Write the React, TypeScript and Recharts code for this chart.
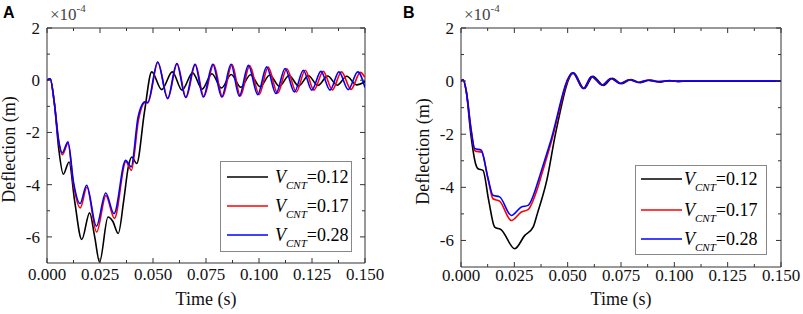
import { LineChart, Line, XAxis, YAxis, ReferenceArea, Legend, Label } from "recharts";

type Pt = { t: number; v: number };

// series labels (V_CNT values) and colours
const seriesNames = ["0.12", "0.17", "0.28"];
const seriesColors = ["#000000", "#ff0000", "#0000ff"];

// axis ticks
const xMajorTicks = [0, 0.025, 0.05, 0.075, 0.1, 0.125, 0.15];
const xMinorTicks = [0.0125, 0.0375, 0.0625, 0.0875, 0.1125, 0.1375];
const yMajorTicks = [-6, -4, -2, 0, 2];
const yMinorTicks = [-5, -3, -1, 1];

// Panel A: deflection (x1e-4 m) vs time (s)
const panelA012: Pt[] = [
  { t: 0, v: 0 }, { t: 0.0015, v: 0.05 }, { t: 0.0035, v: -0.9 }, { t: 0.0055, v: -2.6 },
  { t: 0.0077, v: -3.6 }, { t: 0.0104, v: -3.13 }, { t: 0.013, v: -4.6 }, { t: 0.0164, v: -6.1 },
  { t: 0.0201, v: -5.08 }, { t: 0.0225, v: -6.0 }, { t: 0.0248, v: -6.96 }, { t: 0.0288, v: -5.24 },
  { t: 0.031, v: -5.4 }, { t: 0.0336, v: -5.87 }, { t: 0.0362, v: -4.6 }, { t: 0.0384, v: -3.3 },
  { t: 0.04, v: -2.94 }, { t: 0.0423, v: -3.19 }, { t: 0.046, v: -1.2 }, { t: 0.0494, v: 0.32 },
  { t: 0.0541, v: -0.36 }, { t: 0.0591, v: 0.32 }, { t: 0.0637, v: -0.38 }, { t: 0.0687, v: 0.28 },
  { t: 0.0732, v: -0.34 }, { t: 0.0778, v: 0.25 }, { t: 0.0823, v: -0.3 }, { t: 0.0869, v: 0.22 },
  { t: 0.0914, v: -0.27 }, { t: 0.096, v: 0.21 }, { t: 0.1005, v: -0.25 }, { t: 0.1051, v: 0.2 },
  { t: 0.1096, v: -0.23 }, { t: 0.1142, v: 0.18 }, { t: 0.1187, v: -0.22 }, { t: 0.1233, v: 0.17 },
  { t: 0.1278, v: -0.2 }, { t: 0.1324, v: 0.16 }, { t: 0.1369, v: -0.19 }, { t: 0.1414, v: 0.15 },
  { t: 0.146, v: -0.18 }, { t: 0.15, v: -0.05 },
];

const panelA017: Pt[] = [
  { t: 0, v: 0 }, { t: 0.0015, v: 0.05 }, { t: 0.0035, v: -0.9 }, { t: 0.0055, v: -2.35 },
  { t: 0.0073, v: -2.85 }, { t: 0.0099, v: -2.42 }, { t: 0.0125, v: -4.0 }, { t: 0.0157, v: -4.89 },
  { t: 0.0188, v: -4.1 }, { t: 0.0234, v: -5.81 }, { t: 0.0278, v: -4.42 }, { t: 0.0318, v: -5.29 },
  { t: 0.0372, v: -3.12 }, { t: 0.0398, v: -3.45 }, { t: 0.0432, v: -1.5 }, { t: 0.0463, v: -0.85 },
  { t: 0.0476, v: -0.87 }, { t: 0.0523, v: 0.68 }, { t: 0.057, v: -0.7 }, { t: 0.0614, v: 0.63 },
  { t: 0.0656, v: -0.66 }, { t: 0.07, v: 0.6 }, { t: 0.074, v: -0.63 }, { t: 0.0786, v: 0.6 },
  { t: 0.0828, v: -0.63 }, { t: 0.0873, v: 0.6 }, { t: 0.0912, v: -0.6 }, { t: 0.0956, v: 0.56 },
  { t: 0.1001, v: -0.55 }, { t: 0.1043, v: 0.5 }, { t: 0.1088, v: -0.5 }, { t: 0.1131, v: 0.44 },
  { t: 0.1176, v: -0.45 }, { t: 0.1218, v: 0.38 }, { t: 0.1259, v: -0.38 }, { t: 0.1303, v: 0.34 },
  { t: 0.1346, v: -0.37 }, { t: 0.1389, v: 0.32 }, { t: 0.1434, v: -0.35 }, { t: 0.1478, v: 0.3 },
  { t: 0.15, v: 0.1 },
];

const panelA028: Pt[] = [
  { t: 0, v: 0 }, { t: 0.0015, v: 0.05 }, { t: 0.0035, v: -0.9 }, { t: 0.0055, v: -2.3 },
  { t: 0.0072, v: -2.78 }, { t: 0.0099, v: -2.36 }, { t: 0.0125, v: -3.9 }, { t: 0.0156, v: -4.72 },
  { t: 0.0187, v: -4.02 }, { t: 0.0233, v: -5.59 }, { t: 0.0277, v: -4.32 }, { t: 0.0316, v: -5.11 },
  { t: 0.0371, v: -3.07 }, { t: 0.0397, v: -3.32 }, { t: 0.043, v: -1.4 }, { t: 0.0462, v: -0.83 },
  { t: 0.0475, v: -0.85 }, { t: 0.0522, v: 0.7 }, { t: 0.0569, v: -0.7 }, { t: 0.0612, v: 0.64 },
  { t: 0.0654, v: -0.66 }, { t: 0.0698, v: 0.61 }, { t: 0.0737, v: -0.64 }, { t: 0.0782, v: 0.61 },
  { t: 0.0824, v: -0.64 }, { t: 0.0868, v: 0.61 }, { t: 0.0907, v: -0.61 }, { t: 0.095, v: 0.57 },
  { t: 0.0994, v: -0.55 }, { t: 0.1036, v: 0.51 }, { t: 0.108, v: -0.51 }, { t: 0.1123, v: 0.45 },
  { t: 0.1167, v: -0.45 }, { t: 0.1209, v: 0.38 }, { t: 0.1249, v: -0.38 }, { t: 0.1292, v: 0.34 },
  { t: 0.1335, v: -0.38 }, { t: 0.1377, v: 0.32 }, { t: 0.1421, v: -0.36 }, { t: 0.1466, v: 0.32 },
  { t: 0.15, v: -0.28 },
];

// Panel B
const panelB012: Pt[] = [
  { t: 0, v: 0 }, { t: 0.001, v: 0.05 }, { t: 0.0025, v: -0.4 }, { t: 0.0046, v: -2.0 },
  { t: 0.0068, v: -3.1 }, { t: 0.008, v: -3.3 }, { t: 0.0103, v: -3.36 }, { t: 0.013, v: -4.5 },
  { t: 0.0158, v: -5.5 }, { t: 0.0189, v: -5.6 }, { t: 0.0252, v: -6.31 }, { t: 0.0299, v: -5.81 },
  { t: 0.0338, v: -5.5 }, { t: 0.0358, v: -4.99 }, { t: 0.0402, v: -3.74 }, { t: 0.0445, v: -1.9 },
  { t: 0.0527, v: 0.31 }, { t: 0.0578, v: -0.28 }, { t: 0.0618, v: 0.18 }, { t: 0.0668, v: -0.16 },
  { t: 0.071, v: 0.11 }, { t: 0.0753, v: -0.1 }, { t: 0.0797, v: 0.06 }, { t: 0.0842, v: -0.06 },
  { t: 0.0887, v: 0.04 }, { t: 0.0932, v: -0.04 }, { t: 0.0977, v: 0.025 }, { t: 0.102, v: -0.02 },
  { t: 0.1065, v: 0.01 }, { t: 0.11, v: 0 }, { t: 0.15, v: 0 },
];

const panelB017: Pt[] = [
  { t: 0, v: 0 }, { t: 0.001, v: 0.05 }, { t: 0.0025, v: -0.4 }, { t: 0.0048, v: -1.9 },
  { t: 0.0066, v: -2.63 }, { t: 0.0097, v: -2.68 }, { t: 0.0127, v: -3.7 }, { t: 0.015, v: -4.43 },
  { t: 0.0181, v: -4.52 }, { t: 0.0236, v: -5.25 }, { t: 0.0283, v: -4.93 }, { t: 0.0314, v: -4.84 },
  { t: 0.0358, v: -4.05 }, { t: 0.0375, v: -3.6 }, { t: 0.0421, v: -2.35 }, { t: 0.0525, v: 0.3 },
  { t: 0.0574, v: -0.28 }, { t: 0.0613, v: 0.17 }, { t: 0.0663, v: -0.15 }, { t: 0.0703, v: 0.1 },
  { t: 0.0747, v: -0.09 }, { t: 0.079, v: 0.05 }, { t: 0.0833, v: -0.05 }, { t: 0.0878, v: 0.03 },
  { t: 0.0923, v: -0.02 }, { t: 0.0975, v: 0.01 }, { t: 0.105, v: 0 }, { t: 0.15, v: 0 },
];

const panelB028: Pt[] = [
  { t: 0, v: 0 }, { t: 0.001, v: 0.05 }, { t: 0.0025, v: -0.4 }, { t: 0.0048, v: -1.85 },
  { t: 0.0064, v: -2.54 }, { t: 0.0095, v: -2.6 }, { t: 0.0125, v: -3.6 }, { t: 0.015, v: -4.3 },
  { t: 0.0181, v: -4.36 }, { t: 0.0236, v: -5.06 }, { t: 0.0283, v: -4.74 }, { t: 0.0314, v: -4.68 },
  { t: 0.0358, v: -3.86 }, { t: 0.037, v: -3.55 }, { t: 0.0417, v: -2.35 }, { t: 0.0524, v: 0.31 },
  { t: 0.0573, v: -0.28 }, { t: 0.0612, v: 0.17 }, { t: 0.0662, v: -0.15 }, { t: 0.0702, v: 0.1 },
  { t: 0.0745, v: -0.09 }, { t: 0.0788, v: 0.05 }, { t: 0.0831, v: -0.05 }, { t: 0.0875, v: 0.03 },
  { t: 0.092, v: -0.02 }, { t: 0.097, v: 0.01 }, { t: 0.105, v: 0 }, { t: 0.15, v: 0 },
];

const SERIF = "'Liberation Serif', 'Times New Roman', serif";
const SANS = "'Liberation Sans', Arial, sans-serif";
const FRAME = "#333";
const H = 314;

type Plot = { left: number; right: number; top: number; bottom: number };
type LegendBox = { left: number; top: number; w: number; h: number; lx1: number; lx2: number; tx: number; rows: number[] };

function Panel({
  letter,
  series,
  width,
  plot,
  xLabelGap,
  legend,
}: {
  letter: string;
  series: Pt[][];
  width: number;
  plot: Plot;
  xLabelGap: number;
  legend: LegendBox;
}) {
  const yAxisWidth = 40;
  const xAxisHeight = 30;
  const margin = {
    top: plot.top,
    right: width - plot.right,
    bottom: H - plot.bottom - xAxisHeight,
    left: plot.left - yAxisWidth,
  };

  const xTick = (props: any) => {
    const { x, payload } = props;
    const major = xMajorTicks.includes(payload.value);
    const len = major ? 5 : 3;
    return (
      <g>
        <line x1={x} x2={x} y1={plot.bottom} y2={plot.bottom - len} stroke={FRAME} />
        <line x1={x} x2={x} y1={plot.top} y2={plot.top + len} stroke={FRAME} />
        {major && (
          <text x={x} y={plot.bottom + xLabelGap} textAnchor="middle" fontFamily={SERIF} fontSize={17} fill="#111">
            {payload.value.toFixed(3)}
          </text>
        )}
      </g>
    );
  };

  const yTick = (props: any) => {
    const { y, payload } = props;
    const major = yMajorTicks.includes(payload.value);
    const len = major ? 5 : 3;
    return (
      <g>
        <line x1={plot.left} x2={plot.left + len} y1={y} y2={y} stroke={FRAME} />
        <line x1={plot.right} x2={plot.right - len} y1={y} y2={y} stroke={FRAME} />
        {major && (
          <text x={plot.left - 7} y={y + 6} textAnchor="end" fontFamily={SERIF} fontSize={17} fill="#111">
            {String(payload.value)}
          </text>
        )}
      </g>
    );
  };

  const renderLegend = (props: any) => {
    const payload = props.payload || [];
    return (
      <svg width={legend.w} height={legend.h} style={{ display: "block" }}>
        <rect x={0.5} y={0.5} width={legend.w - 1} height={legend.h - 1} fill="#fff" stroke="#888" />
        {payload.map((e: any, i: number) => (
          <g key={i}>
            <line x1={legend.lx1} x2={legend.lx2} y1={legend.rows[i]} y2={legend.rows[i]} stroke={e.color} strokeWidth={1.6} />
            <text x={legend.tx} y={legend.rows[i] + 6} fontFamily={SERIF} fontSize={18} fill="#000">
              <tspan fontStyle="italic">V</tspan>
              <tspan fontStyle="italic" fontSize={11} dy={6}>CNT</tspan>
              <tspan dy={-6}>={e.value}</tspan>
            </text>
          </g>
        ))}
      </svg>
    );
  };

  const ticksX = [...xMajorTicks, ...xMinorTicks].sort((a, b) => a - b);
  const ticksY = [...yMajorTicks, ...yMinorTicks].sort((a, b) => a - b);
  const midY = (plot.top + plot.bottom) / 2 + 4;

  return (
    <div style={{ position: "relative", width, height: H }}>
      <LineChart width={width} height={H} margin={margin}>
        <ReferenceArea x1={0} x2={0.15} y1={-7} y2={2} fill="none" stroke={FRAME} strokeWidth={1} />
        <XAxis
          type="number"
          dataKey="t"
          domain={[0, 0.15]}
          ticks={ticksX}
          interval={0}
          height={xAxisHeight}
          axisLine={false}
          tickLine={false}
          tick={xTick}
          allowDataOverflow
        >
          <Label
            content={() => (
              <text x={(plot.left + plot.right) / 2} y={305} textAnchor="middle" fontFamily={SERIF} fontSize={18} fill="#111">
                Time (s)
              </text>
            )}
          />
        </XAxis>
        <YAxis
          type="number"
          domain={[-7, 2]}
          ticks={ticksY}
          interval={0}
          width={yAxisWidth}
          axisLine={false}
          tickLine={false}
          tick={yTick}
          allowDataOverflow
        >
          <Label
            content={() => (
              <text
                x={plot.left - 32}
                y={midY}
                textAnchor="middle"
                fontFamily={SERIF}
                fontSize={18}
                fill="#111"
                transform={`rotate(-90 ${plot.left - 32} ${midY})`}
              >
                Deflection (m)
              </text>
            )}
          />
        </YAxis>
        <Legend
          layout="vertical"
          align="center"
          verticalAlign="middle"
          content={renderLegend}
          wrapperStyle={{ position: "absolute", left: legend.left, top: legend.top, width: legend.w, height: legend.h }}
        />
        {series.map((d, i) => (
          <Line
            key={seriesNames[i]}
            data={d}
            dataKey="v"
            name={seriesNames[i]}
            type="monotone"
            stroke={seriesColors[i]}
            strokeWidth={1.6}
            dot={false}
            activeDot={false}
            isAnimationActive={false}
          />
        ))}
      </LineChart>
      <svg width={width} height={30} style={{ position: "absolute", left: 0, top: 0, pointerEvents: "none" }}>
        <text x={3} y={18} fontFamily={SANS} fontWeight="bold" fontSize={16} fill="#000">
          {letter}
        </text>
        <text x={plot.left + 3} y={20} fontFamily={SERIF} fontSize={17} fill="#444">
          ×10<tspan fontSize={11} dy={-8}>-4</tspan>
        </text>
      </svg>
    </div>
  );
}

export default function App() {
  return (
    <div style={{ position: "absolute", left: 0, top: 0, width: 803, height: H, background: "#fff", display: "flex" }}>
      <Panel
        letter="A"
        series={[panelA012, panelA017, panelA028]}
        width={400}
        plot={{ left: 47, right: 365, top: 28, bottom: 263 }}
        xLabelGap={17}
        legend={{ left: 220, top: 161, w: 132, h: 91, lx1: 7, lx2: 48, tx: 55, rows: [16, 45, 74] }}
      />
      <Panel
        letter="B"
        series={[panelB012, panelB017, panelB028]}
        width={403}
        plot={{ left: 61, right: 381, top: 28, bottom: 267 }}
        xLabelGap={14}
        legend={{ left: 235, top: 165, w: 132, h: 90, lx1: 6, lx2: 47, tx: 49, rows: [14, 45, 74] }}
      />
    </div>
  );
}
